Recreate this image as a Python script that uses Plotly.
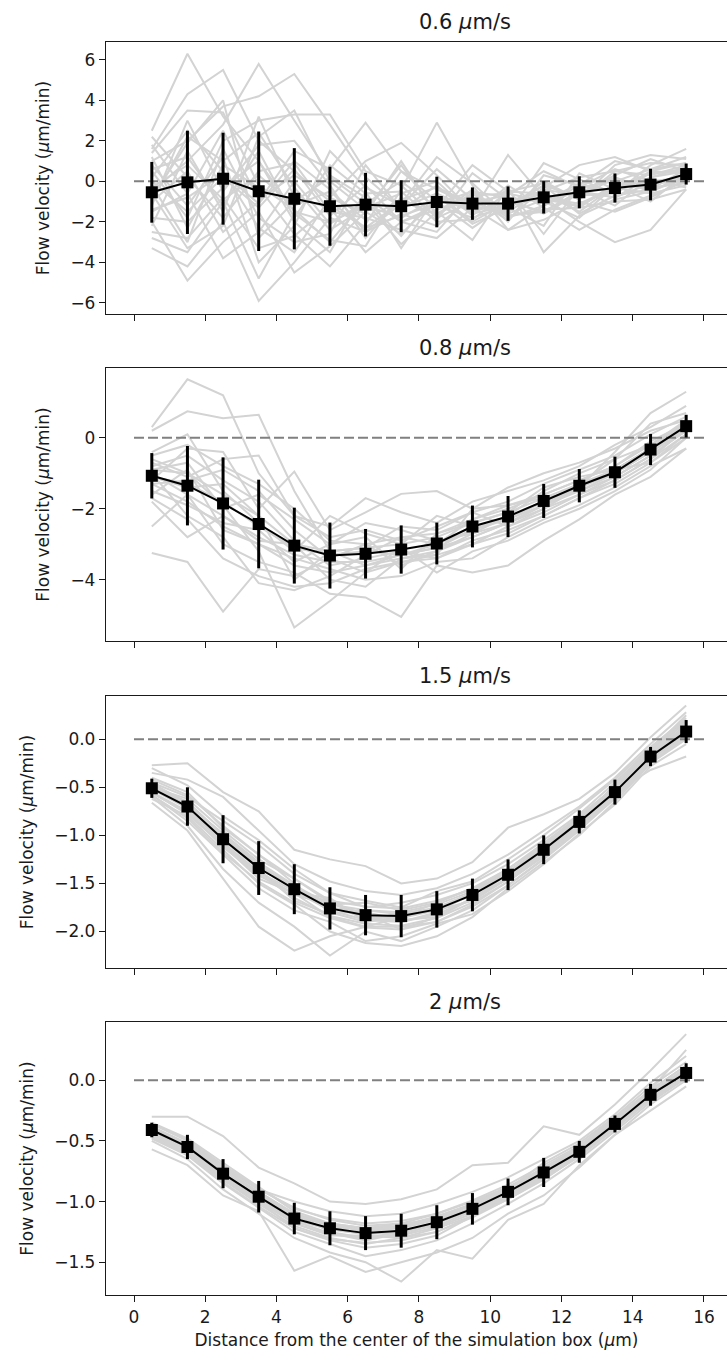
import plotly.graph_objects as go

# Radial positions of the sampled bins (µm)
DIST = [0.5, 1.5, 2.5, 3.5, 4.5, 5.5, 6.5, 7.5, 8.5, 9.5, 10.5, 11.5, 12.5, 13.5, 14.5, 15.5]

PANEL_TITLES = ["0.6 <i>μ</i>m/s", "0.8 <i>μ</i>m/s", "1.5 <i>μ</i>m/s", "2 <i>μ</i>m/s"]

# Mean flow velocity and standard deviation per bin
MEAN_06 = [-0.54, -0.05, 0.13, -0.49, -0.86, -1.23, -1.15, -1.23, -1.02, -1.10, -1.10, -0.79, -0.54, -0.33, -0.16, 0.36]
STD_06 = [1.50, 2.55, 2.27, 2.95, 2.50, 1.95, 1.57, 1.28, 1.25, 0.80, 0.85, 0.80, 0.79, 0.72, 0.78, 0.52]
MEAN_08 = [-1.07, -1.35, -1.85, -2.43, -3.04, -3.32, -3.27, -3.15, -2.98, -2.50, -2.22, -1.78, -1.35, -0.97, -0.33, 0.33]
STD_08 = [0.64, 1.12, 1.30, 1.25, 1.07, 0.93, 0.70, 0.68, 0.59, 0.59, 0.58, 0.48, 0.47, 0.44, 0.44, 0.32]
MEAN_15 = [-0.51, -0.70, -1.04, -1.34, -1.56, -1.76, -1.83, -1.84, -1.77, -1.62, -1.41, -1.15, -0.86, -0.55, -0.18, 0.08]
STD_15 = [0.10, 0.20, 0.25, 0.28, 0.26, 0.22, 0.21, 0.22, 0.19, 0.17, 0.16, 0.15, 0.12, 0.13, 0.10, 0.12]
MEAN_20 = [-0.41, -0.55, -0.77, -0.96, -1.14, -1.22, -1.26, -1.24, -1.17, -1.06, -0.92, -0.76, -0.59, -0.36, -0.12, 0.06]
STD_20 = [0.06, 0.10, 0.12, 0.13, 0.13, 0.14, 0.14, 0.14, 0.14, 0.13, 0.11, 0.12, 0.09, 0.07, 0.09, 0.08]

# Individual simulation runs, 0.6 µm/s
RUNS_06 = [
    [2.5, 6.3, 3.2, 1.0, -1.5, -2.0, -1.2, -1.8, -0.8, -1.5, -1.0, -0.5, 0.2, 0.5, 0.3, 0.8],
    [1.6, 4.3, 5.5, 2.0, 0.5, -1.0, -2.3, -1.0, -1.6, -0.6, -1.8, -1.2, -0.2, -0.5, 0.5, 0.4],
    [-0.5, 1.0, 2.8, 5.8, 3.0, 0.3, -0.8, -2.0, -1.2, -1.8, -1.2, -0.2, -0.8, 0.2, -0.4, 0.6],
    [1.0, 2.0, 3.7, 4.2, 5.3, 2.8, 0.2, -1.3, -0.6, -2.0, -1.0, -1.5, -0.5, -0.8, 0.2, 0.5],
    [-3.3, -4.2, -2.0, -5.9, -4.0, -1.8, -2.5, -1.6, -2.2, -0.8, -1.6, -0.9, -1.2, -0.3, -0.6, -0.2],
    [-2.0, -4.9, -3.0, -1.5, -4.5, -3.2, -1.5, -2.6, -0.9, -1.3, -2.4, -1.9, -1.0, -1.5, -0.8, 0.1],
    [0.5, -1.8, 2.0, 3.0, 3.3, 3.3, 0.5, -0.2, -1.8, -1.0, -0.7, 0.5, -0.3, 0.6, 0.0, 0.2],
    [-1.0, 0.5, -2.5, -1.0, 1.5, 0.6, 2.9, 0.5, -1.0, -2.3, -1.1, -0.6, -1.5, -0.2, -1.0, 0.4],
    [-2.8, -3.5, -1.0, -4.8, -1.6, -2.9, -3.2, -0.4, 2.9, -0.2, -2.4, -1.2, -0.4, -1.2, 0.2, 0.7],
    [0.2, 2.5, 0.5, -2.3, -3.5, -0.8, 1.0, 1.9, 0.3, -1.5, 1.3, -0.8, -2.0, -3.0, -2.4, -0.4],
    [-1.5, -0.6, -3.8, -2.5, 0.0, -2.1, -1.0, -3.1, -1.5, -2.9, -0.3, -3.5, -1.7, -0.9, -0.5, 0.3],
    [1.2, -2.3, 0.8, -0.3, -2.6, -4.2, -2.1, 0.5, -0.4, -1.2, -1.6, 0.9, 0.1, -0.6, 0.8, 1.6],
    [-2.2, 1.5, -1.5, 3.2, -0.8, -1.3, -3.5, -2.0, -2.5, -0.5, -0.8, -1.0, -1.8, -0.2, -0.3, -0.1],
    [0.8, -1.2, 1.2, -4.0, -2.2, 1.5, -0.3, -1.2, 0.6, -0.9, -1.9, -0.3, 0.8, 1.2, 0.5, 0.9],
    [-1.2, 3.0, -0.5, 1.8, 2.0, -0.2, -2.8, -0.8, -1.9, 0.4, -0.9, -1.6, -0.6, 0.3, 1.1, 0.5],
    [-0.2, -3.0, 1.6, -1.8, -3.0, -2.6, 0.8, -1.4, -0.2, -1.7, -0.2, -1.3, -2.4, -1.4, -0.7, 0.0],
    [2.2, 0.2, -1.8, 0.5, 0.9, -1.5, -1.8, -2.4, -2.8, -1.3, -1.4, 0.0, -0.9, 0.8, 1.3, 1.1],
    [-0.8, 1.9, 4.0, -2.8, -1.0, 0.2, -1.1, 0.0, -1.3, 0.8, -0.5, -0.6, -1.3, -0.1, -0.2, 0.3],
    [-1.8, -2.0, -0.3, 1.0, -2.0, -3.5, -0.5, -3.3, -0.7, -2.1, -1.3, -2.2, 0.4, -0.4, 0.1, -0.3],
    [1.8, -0.6, 2.5, -0.9, 0.3, -0.8, -1.6, 1.0, -1.7, -0.4, -2.0, 0.3, -0.2, 1.0, 0.6, 1.2],
    [-0.3, 0.8, -0.9, 0.3, -1.2, -0.5, -1.9, -0.9, -0.3, -1.1, -1.5, -0.4, -0.7, -0.6, 0.4, 0.6],
    [0.0, -1.5, 0.2, -1.3, 0.6, -1.7, -0.2, -2.0, -1.4, -0.7, -0.6, -1.0, -0.1, 0.1, -0.5, 0.2],
    [-1.0, 2.2, 1.0, 2.4, -0.3, -2.4, -1.3, -0.6, 0.0, -1.6, -1.2, -0.8, -1.1, -0.3, 0.4, 0.5],
    [-2.5, -2.8, -0.8, -3.3, -2.7, -1.2, -2.3, -1.7, -1.1, -0.5, -1.7, -1.5, -0.5, -0.8, -0.1, 0.0],
    [0.6, 1.2, -1.2, 1.5, -1.8, 0.8, -0.6, -0.5, -2.0, -1.9, -0.5, -0.1, -0.9, 0.5, 0.9, 0.8],
    [-1.4, -0.8, 0.4, -1.1, 1.0, -0.4, -2.5, -1.1, 1.2, -0.1, -1.7, -1.4, -1.3, -1.0, -0.9, -0.4],
    [1.4, 3.5, 3.4, -0.2, -1.4, -3.0, -0.9, -2.7, -0.6, -1.4, -0.4, -2.6, -0.3, 0.0, 0.6, 0.9],
    [-0.6, -3.3, -2.2, 2.2, 3.5, 0.0, -1.4, 0.8, -1.6, -0.8, -1.3, -0.2, -1.6, -0.7, -0.4, 0.1],
]

# Individual simulation runs, 0.8 µm/s
RUNS_08 = [
    [0.3, 1.65, 1.2, -1.0, -2.2, -2.8, -2.6, -2.9, -2.5, -2.1, -1.8, -1.3, -0.9, -0.5, 0.1, 0.6],
    [0.2, 0.75, 0.55, 0.65, -1.5, -3.2, -3.6, -3.3, -3.1, -2.8, -2.4, -1.9, -1.3, -0.6, 0.4, 0.7],
    [-3.25, -3.5, -4.9, -3.7, -3.9, -3.4, -3.0, -3.6, -3.2, -2.7, -2.4, -2.0, -1.6, -1.2, -0.6, 0.1],
    [-0.6, -1.0, -1.9, -3.2, -5.35, -4.6, -3.8, -3.5, -3.3, -3.0, -2.5, -2.1, -1.6, -1.1, -0.5, 0.2],
    [-1.2, -0.3, -0.4, -2.0, -0.95, -2.6, -2.1, -1.58, -1.5, -2.0, -1.4, -1.0, -0.7, -0.3, 0.2, 0.5],
    [-2.5, -1.6, -3.0, -3.5, -3.8, -4.4, -4.5, -5.05, -3.6, -3.8, -3.6, -2.9, -2.3, -1.6, -1.1, -0.3],
    [-1.0, -2.2, -2.8, -4.1, -4.3, -3.9, -3.3, -2.8, -3.0, -2.3, -2.0, -1.6, -1.2, -0.8, -0.1, 0.4],
    [-0.8, -0.5, -1.2, -1.8, -2.9, -3.6, -3.4, -3.2, -3.4, -2.9, -2.6, -2.2, -1.7, -1.2, -0.6, 0.3],
    [-1.5, -1.9, -2.4, -2.6, -3.5, -3.0, -2.8, -3.7, -2.7, -2.4, -2.1, -1.4, -1.1, -0.9, -0.3, 0.5],
    [-1.3, -1.2, -0.9, -1.5, -2.6, -3.4, -3.8, -3.1, -3.8, -3.2, -2.9, -2.4, -2.0, -1.5, -0.9, 0.0],
    [-0.4, 0.1, -1.5, -2.4, -3.2, -2.2, -2.7, -3.0, -2.2, -2.5, -2.3, -1.8, -1.4, -0.4, 0.7, 1.3],
    [-1.8, -2.8, -2.2, -2.9, -3.0, -4.0, -4.2, -3.4, -3.3, -2.0, -1.9, -1.7, -1.5, -1.0, -0.4, 0.2],
    [-0.9, -0.7, -2.0, -1.6, -2.3, -3.0, -2.4, -2.6, -2.9, -2.7, -2.2, -1.5, -1.0, -0.6, -0.2, 0.4],
    [-1.1, -1.4, -1.3, -2.2, -4.0, -3.2, -3.1, -2.5, -2.6, -2.1, -2.5, -2.0, -1.4, -0.9, -0.7, 0.1],
    [-0.7, -1.1, -0.6, -0.5, -2.2, -2.5, -1.7, -2.1, -2.4, -1.8, -1.5, -1.2, -0.8, -0.2, 0.3, 0.9],
    [-1.6, -0.9, -2.6, -3.0, -3.4, -3.7, -4.0, -3.9, -3.5, -3.4, -2.8, -2.3, -1.9, -1.4, -0.8, -0.3],
    [-1.0, -1.6, -2.2, -2.8, -3.3, -3.5, -3.5, -3.3, -3.1, -2.6, -2.3, -1.9, -1.4, -1.0, -0.4, 0.3],
    [-0.9, -1.0, -1.6, -2.2, -3.0, -3.2, -3.1, -3.0, -2.8, -2.4, -2.1, -1.7, -1.3, -0.9, -0.3, 0.4],
    [-1.3, -1.8, -2.5, -3.0, -3.6, -3.8, -3.6, -3.4, -3.2, -2.8, -2.4, -1.9, -1.5, -1.1, -0.5, 0.2],
    [-0.5, -0.2, -0.8, -1.3, -2.0, -2.9, -3.0, -2.8, -2.7, -2.3, -1.9, -1.6, -1.2, -0.8, -0.2, 0.5],
    [-1.7, -2.3, -3.4, -3.9, -4.2, -4.1, -3.7, -3.5, -3.4, -3.0, -2.7, -2.2, -1.7, -1.3, -0.7, 0.0],
    [-1.1, -1.3, -1.8, -2.5, -3.1, -3.3, -3.2, -3.3, -3.0, -2.6, -2.2, -1.8, -1.4, -0.9, -0.3, 0.3],
]

# Individual simulation runs, 1.5 µm/s
RUNS_15 = [
    [-0.27, -0.25, -0.55, -0.75, -1.15, -1.25, -1.32, -1.50, -1.45, -1.28, -0.92, -0.78, -0.62, -0.35, 0.02, 0.35],
    [-0.35, -0.42, -0.60, -0.95, -1.30, -1.48, -1.58, -1.62, -1.55, -1.40, -1.20, -0.95, -0.70, -0.40, -0.05, 0.28],
    [-0.66, -0.95, -1.45, -1.95, -2.20, -2.05, -1.95, -1.85, -1.75, -1.60, -1.35, -1.10, -0.80, -0.50, -0.15, 0.10],
    [-0.60, -0.90, -1.35, -1.70, -1.95, -2.25, -2.00, -2.10, -1.95, -1.78, -1.52, -1.25, -0.95, -0.60, -0.25, 0.05],
    [-0.45, -0.60, -0.85, -1.10, -1.40, -1.60, -1.75, -1.70, -1.62, -1.50, -1.30, -1.05, -0.78, -0.45, -0.10, 0.20],
    [-0.55, -0.78, -1.10, -1.45, -1.60, -1.85, -1.95, -1.95, -1.90, -1.72, -1.48, -1.20, -0.90, -0.58, -0.20, 0.10],
    [-0.50, -0.65, -1.00, -1.30, -1.55, -1.70, -1.85, -1.90, -1.80, -1.60, -1.40, -1.18, -0.88, -0.55, -0.18, 0.12],
    [-0.40, -0.55, -0.92, -1.20, -1.50, -1.80, -1.90, -1.85, -1.70, -1.55, -1.35, -1.10, -0.82, -0.50, -0.12, 0.18],
    [-0.58, -0.85, -1.20, -1.55, -1.78, -1.90, -2.10, -2.05, -1.92, -1.82, -1.58, -1.30, -0.98, -0.68, -0.28, -0.05],
    [-0.48, -0.72, -1.08, -1.38, -1.62, -1.72, -1.70, -1.78, -1.70, -1.55, -1.42, -1.15, -0.85, -0.52, -0.15, 0.15],
    [-0.52, -0.68, -0.98, -1.28, -1.52, -1.75, -1.80, -1.88, -1.85, -1.65, -1.45, -1.22, -0.92, -0.60, -0.22, 0.08],
    [-0.30, -0.48, -0.80, -1.05, -1.35, -1.60, -1.68, -1.75, -1.58, -1.48, -1.25, -1.00, -0.72, -0.42, -0.08, 0.22],
    [-0.62, -0.80, -1.15, -1.50, -1.72, -2.00, -2.12, -2.15, -2.05, -1.85, -1.55, -1.28, -1.00, -0.65, -0.25, 0.00],
    [-0.45, -0.70, -1.05, -1.35, -1.68, -1.82, -1.78, -1.82, -1.75, -1.62, -1.38, -1.12, -0.86, -0.55, -0.17, 0.12],
    [-0.55, -0.75, -1.12, -1.42, -1.60, -1.65, -1.90, -1.80, -1.78, -1.68, -1.45, -1.18, -0.88, -0.55, -0.32, -0.18],
    [-0.50, -0.62, -0.95, -1.25, -1.45, -1.70, -1.82, -1.98, -1.85, -1.66, -1.40, -1.14, -0.85, -0.47, -0.12, 0.25],
    [-0.48, -0.70, -1.02, -1.30, -1.55, -1.75, -1.85, -1.86, -1.78, -1.62, -1.40, -1.15, -0.87, -0.54, -0.18, 0.10],
    [-0.52, -0.72, -1.08, -1.38, -1.58, -1.78, -1.88, -1.90, -1.82, -1.66, -1.44, -1.18, -0.90, -0.57, -0.20, 0.06],
    [-0.46, -0.66, -1.00, -1.32, -1.52, -1.72, -1.78, -1.80, -1.72, -1.58, -1.38, -1.12, -0.83, -0.52, -0.16, 0.14],
    [-0.56, -0.76, -1.10, -1.40, -1.65, -1.84, -1.92, -1.94, -1.86, -1.70, -1.48, -1.22, -0.92, -0.60, -0.21, 0.04],
    [-0.42, -0.58, -0.90, -1.20, -1.45, -1.68, -1.74, -1.76, -1.68, -1.56, -1.35, -1.08, -0.80, -0.50, -0.14, 0.18],
    [-0.58, -0.82, -1.18, -1.48, -1.70, -1.86, -1.96, -1.98, -1.90, -1.74, -1.52, -1.24, -0.94, -0.62, -0.24, 0.02],
]

# Individual simulation runs, 2 µm/s
RUNS_20 = [
    [-0.30, -0.30, -0.46, -0.72, -0.85, -1.00, -1.02, -0.98, -0.90, -0.70, -0.68, -0.38, -0.45, -0.20, 0.08, 0.38],
    [-0.57, -0.70, -0.95, -1.08, -1.57, -1.45, -1.58, -1.50, -1.42, -1.30, -1.10, -0.95, -0.72, -0.45, -0.25, -0.05],
    [-0.40, -0.52, -0.70, -0.90, -1.05, -1.15, -1.20, -1.18, -1.10, -1.00, -0.88, -0.72, -0.55, -0.32, -0.08, 0.12],
    [-0.45, -0.60, -0.82, -1.02, -1.20, -1.30, -1.35, -1.30, -1.25, -1.12, -0.98, -0.82, -0.62, -0.40, -0.15, 0.05],
    [-0.35, -0.48, -0.68, -0.88, -1.08, -1.18, -1.25, -1.20, -1.12, -1.02, -0.90, -0.68, -0.52, -0.30, -0.05, 0.15],
    [-0.48, -0.62, -0.85, -1.05, -1.25, -1.35, -1.45, -1.40, -1.32, -1.18, -1.02, -0.85, -0.65, -0.42, -0.18, 0.02],
    [-0.38, -0.55, -0.80, -1.00, -1.15, -1.22, -1.22, -1.28, -1.18, -1.05, -0.92, -0.75, -0.58, -0.35, -0.10, 0.08],
    [-0.42, -0.58, -0.75, -0.92, -1.10, -1.25, -1.30, -1.25, -1.20, -1.08, -0.95, -0.78, -0.60, -0.38, -0.12, 0.10],
    [-0.50, -0.65, -0.90, -1.10, -1.30, -1.42, -1.50, -1.66, -1.40, -1.47, -1.15, -1.02, -0.70, -0.45, -0.20, 0.00],
    [-0.36, -0.50, -0.72, -0.90, -1.00, -1.08, -1.12, -1.10, -1.02, -0.92, -0.80, -0.65, -0.50, -0.28, -0.02, 0.20],
    [-0.44, -0.57, -0.78, -0.98, -1.18, -1.28, -1.28, -1.30, -1.22, -1.12, -0.96, -0.80, -0.62, -0.36, -0.14, 0.04],
    [-0.40, -0.54, -0.74, -0.94, -1.12, -1.20, -1.24, -1.22, -1.15, -1.05, -0.90, -0.72, -0.58, -0.34, -0.10, 0.10],
    [-0.46, -0.60, -0.82, -1.00, -1.22, -1.32, -1.38, -1.35, -1.28, -1.12, -0.96, -0.80, -0.60, -0.40, -0.12, 0.06],
    [-0.39, -0.52, -0.76, -0.96, -1.16, -1.26, -1.32, -1.26, -1.18, -1.06, -0.94, -0.76, -0.58, -0.36, -0.16, 0.05],
    [-0.43, -0.58, -0.80, -0.98, -1.12, -1.18, -1.22, -1.18, -1.15, -1.02, -0.88, -0.74, -0.60, -0.38, -0.08, 0.25],
    [-0.41, -0.56, -0.78, -0.97, -1.15, -1.23, -1.27, -1.25, -1.18, -1.07, -0.93, -0.77, -0.60, -0.37, -0.13, 0.07],
    [-0.38, -0.52, -0.73, -0.92, -1.10, -1.18, -1.22, -1.20, -1.13, -1.02, -0.89, -0.73, -0.56, -0.33, -0.10, 0.09],
    [-0.44, -0.59, -0.81, -1.00, -1.18, -1.27, -1.30, -1.28, -1.21, -1.10, -0.95, -0.79, -0.62, -0.39, -0.15, 0.03],
    [-0.40, -0.53, -0.74, -0.93, -1.11, -1.19, -1.23, -1.21, -1.14, -1.03, -0.90, -0.74, -0.57, -0.34, -0.11, 0.08],
    [-0.47, -0.61, -0.84, -1.04, -1.22, -1.31, -1.34, -1.32, -1.25, -1.13, -0.98, -0.81, -0.63, -0.40, -0.16, 0.02],
    [-0.36, -0.49, -0.70, -0.89, -1.06, -1.14, -1.18, -1.16, -1.10, -0.99, -0.86, -0.70, -0.54, -0.31, -0.08, 0.12],
]

# Zero-velocity reference line extent
ZERO_X = [0, 16]
ZERO_Y = [0, 0]

X_TICKS = [0, 2, 4, 6, 8, 10, 12, 14, 16]
Y_TICKS = [
    [-6, -4, -2, 0, 2, 4, 6],
    [-4, -2, 0],
    [-2.0, -1.5, -1.0, -0.5, 0.0],
    [-1.5, -1.0, -0.5, 0.0],
]
Y_RANGES = [[-6.55, 6.88], [-5.73, 1.97], [-2.38, 0.45], [-1.77, 0.48]]

panels = [
    (RUNS_06, MEAN_06, STD_06),
    (RUNS_08, MEAN_08, STD_08),
    (RUNS_15, MEAN_15, STD_15),
    (RUNS_20, MEAN_20, STD_20),
]

FIG_W, FIG_H = 727, 1358
# Plot-area vertical extents in pixels (top, bottom)
AREAS = [(42, 314), (368, 641), (696, 968), (1022, 1295)]

FONT = "DejaVu Sans"
TXT = "#1a1a1a"
TICK_SIZE = 17
LABEL_SIZE = 17
TITLE_SIZE = 21

fig = go.Figure()

for i, (runs, mean, std) in enumerate(panels):
    suffix = "" if i == 0 else str(i + 1)
    xa, ya = "x" + suffix, "y" + suffix
    for run in runs:
        fig.add_trace(go.Scatter(
            x=DIST, y=run, mode="lines", xaxis=xa, yaxis=ya,
            line=dict(color="#d3d3d3", width=2.0), hoverinfo="skip", showlegend=False,
        ))
    fig.add_trace(go.Scatter(
        x=ZERO_X, y=ZERO_Y, mode="lines", xaxis=xa, yaxis=ya,
        line=dict(color="#808080", width=2.0, dash="10px,4px"), showlegend=False,
    ))
    fig.add_trace(go.Scatter(
        x=DIST, y=mean, mode="lines+markers", xaxis=xa, yaxis=ya,
        line=dict(color="black", width=2.0),
        marker=dict(symbol="square", size=12, color="black"),
        error_y=dict(type="data", array=std, visible=True, color="black", thickness=3, width=0),
        showlegend=False,
    ))

    top, bottom = AREAS[i]
    dom = [1 - bottom / FIG_H, 1 - top / FIG_H]
    is_last = i == len(panels) - 1
    xaxis = dict(
        domain=[0, 1], anchor=ya, range=[-0.786, 16.646],
        tickvals=X_TICKS, showticklabels=is_last,
        ticks="outside", ticklen=6, tickwidth=1.3, tickcolor=TXT,
        showline=True, linecolor=TXT, linewidth=1.3, mirror=True,
        showgrid=False, zeroline=False,
        tickfont=dict(family=FONT, size=TICK_SIZE, color=TXT),
    )
    if is_last:
        xaxis["title"] = dict(
            text="Distance from the center of the simulation box (<i>μ</i>m)",
            font=dict(family=FONT, size=LABEL_SIZE, color=TXT), standoff=8,
        )
    yaxis = dict(
        domain=dom, anchor=xa, range=Y_RANGES[i], tickvals=Y_TICKS[i],
        tickformat=".1f" if i >= 2 else "d",
        ticks="outside", ticklen=6, tickwidth=1.3, tickcolor=TXT,
        showline=True, linecolor=TXT, linewidth=1.3, mirror=False,
        showgrid=False, zeroline=False,
        tickfont=dict(family=FONT, size=TICK_SIZE, color=TXT),
        title=dict(text="Flow velocity (<i>μ</i>m/min)",
                   font=dict(family=FONT, size=LABEL_SIZE, color=TXT), standoff=16),
    )
    fig.layout["xaxis" + suffix] = xaxis
    fig.layout["yaxis" + suffix] = yaxis

    fig.add_annotation(
        text=PANEL_TITLES[i], xref="paper", yref="paper",
        x=420 / FIG_W, y=dom[1], xanchor="center", yanchor="bottom",
        yshift=6, showarrow=False, font=dict(family=FONT, size=TITLE_SIZE, color=TXT),
    )

fig.update_layout(
    width=FIG_W, height=FIG_H,
    margin=dict(l=106, r=0, t=0, b=0),
    paper_bgcolor="white", plot_bgcolor="white",
    showlegend=False,
)

fig.write_html("out.html")
